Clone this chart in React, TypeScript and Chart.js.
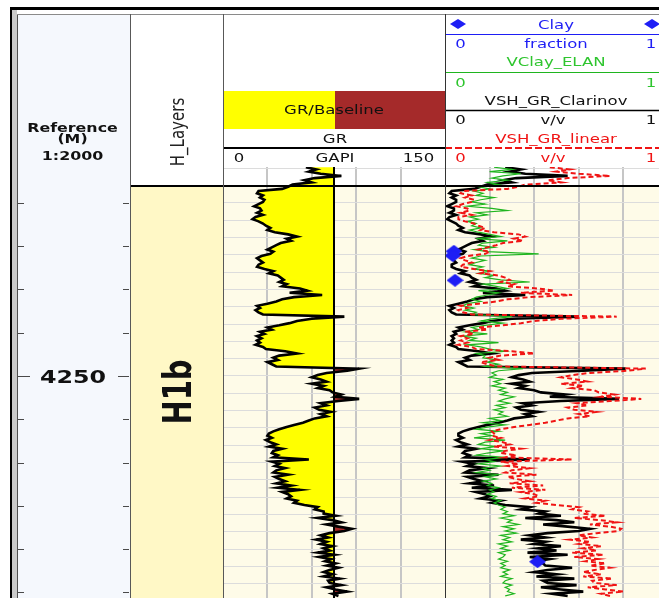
import React, { useEffect, useRef } from 'react';
import { Chart, registerables } from 'chart.js';

Chart.register(...registerables);

// ---------------- depth reference ----------------
const DEPTH_TOP = 4225.87;
const DEPTH_BOTTOM = 4275.64;
const DEPTH_TICK_STEP = 5;
const DEPTH_GRID_STEP = 2;
const DEPTH_LABELS = [4250];
const DEPTH_HEADER = ['Reference', '(M)', '1:2000'];

// ---------------- zonation ----------------
const LAYER_NAMES = ['H1b'];
const LAYER_TOPS = [4228.06];
const LAYER_BOTTOMS = [4290];

// ---------------- curve sampling (m) ----------------
const SAMPLE_START = 4225.9;
const SAMPLE_STEP = 0.25;

// Gamma ray, GAPI
const GR = [
  56, 63, 58, 66, 80, 62, 55, 60, 47, 44, 40, 24, 23, 27, 25, 28,
  27, 24, 21, 25, 26, 23, 27, 22, 20, 24, 27, 29, 32, 30, 35, 44,
  50, 43, 46, 39, 36, 33, 30, 34, 32, 26, 23, 25, 27, 24, 23, 28,
  34, 31, 37, 39, 41, 38, 43, 40, 52, 57, 45, 67, 48, 40, 36, 30,
  23, 25, 22, 24, 27, 82, 60, 50, 45, 38, 30, 33, 25, 28, 23, 26,
  23, 25, 22, 27, 29, 42, 50, 38, 34, 37, 30, 33, 36, 92, 84, 70,
  64, 60, 66, 70, 60, 68, 64, 72, 74, 80, 76, 92, 78, 66, 70, 62,
  65, 73, 66, 70, 62, 58, 54, 48, 43, 38, 34, 31, 30, 33, 29, 32,
  36, 31, 40, 34, 33, 37, 34, 58, 33, 38, 35, 42, 36, 34, 44, 35,
  38, 42, 36, 46, 37, 52, 40, 44, 46, 43, 50, 48, 55, 64, 62, 68,
  68, 76, 64, 74, 80, 70, 78, 87, 82, 72, 66, 71, 63, 70, 66, 74,
  68, 72, 64, 75, 65, 73, 69, 76, 70, 78, 72, 68, 74, 68, 79, 71,
  72, 80, 70, 76, 84, 74, 78,
];
const GR_BASELINE = 75;
const GR_MIN = 0;
const GR_MAX = 150;
const GR_GRID_STEP = 30;

// Clay volume from ELAN, v/v
const VCLAY_ELAN = [
  0.22, 0.30, 0.20, 0.34, 0.26, 0.21, 0.28, 0.19, 0.24, 0.15, 0.20, 0.13, 0.17, 0.14, 0.22, 0.16,
  0.12, 0.18, 0.10, 0.21, 0.28, 0.14, 0.19, 0.11, 0.15, 0.10, 0.14, 0.12, 0.16, 0.11, 0.15, 0.20,
  0.25, 0.14, 0.28, 0.17, 0.15, 0.22, 0.13, 0.19, 0.42, 0.16, 0.12, 0.18, 0.14, 0.11, 0.17, 0.13,
  0.20, 0.15, 0.22, 0.18, 0.25, 0.38, 0.17, 0.23, 0.28, 0.15, 0.24, 0.19, 0.14, 0.12, 0.16, 0.10,
  0.08, 0.13, 0.09, 0.14, 0.12, 0.30, 0.21, 0.16, 0.26, 0.18, 0.12, 0.15, 0.09, 0.19, 0.08, 0.14,
  0.11, 0.24, 0.10, 0.16, 0.20, 0.27, 0.14, 0.18, 0.17, 0.23, 0.19, 0.24, 0.18, 0.35, 0.24, 0.21,
  0.23, 0.20, 0.26, 0.22, 0.25, 0.21, 0.27, 0.24, 0.28, 0.25, 0.31, 0.27, 0.24, 0.29, 0.23, 0.27,
  0.22, 0.26, 0.24, 0.28, 0.20, 0.25, 0.17, 0.27, 0.19, 0.14, 0.24, 0.16, 0.21, 0.13, 0.27, 0.18,
  0.15, 0.23, 0.16, 0.26, 0.19, 0.14, 0.27, 0.18, 0.22, 0.15, 0.25, 0.17, 0.20, 0.14, 0.24, 0.18,
  0.23, 0.17, 0.21, 0.19, 0.24, 0.20, 0.22, 0.19, 0.23, 0.21, 0.25, 0.22, 0.24, 0.27, 0.25, 0.28,
  0.26, 0.31, 0.25, 0.30, 0.28, 0.33, 0.26, 0.31, 0.27, 0.32, 0.25, 0.29, 0.26, 0.30, 0.24, 0.28,
  0.25, 0.29, 0.24, 0.27, 0.26, 0.24, 0.28, 0.25, 0.27, 0.25, 0.29, 0.26, 0.28, 0.25, 0.30, 0.27,
  0.26, 0.30, 0.27, 0.29, 0.28, 0.31, 0.27,
];

// Shale volume from GR, Clavier relation, v/v
const VSH_GR_CLARINOV = [
  0.27, 0.34, 0.29, 0.36, 0.55, 0.32, 0.26, 0.30, 0.19, 0.16, 0.13, 0.03, 0.02, 0.05, 0.03, 0.05,
  0.05, 0.03, 0.01, 0.04, 0.04, 0.02, 0.05, 0.02, 0.01, 0.03, 0.05, 0.06, 0.08, 0.06, 0.09, 0.16,
  0.21, 0.15, 0.17, 0.12, 0.10, 0.08, 0.06, 0.09, 0.08, 0.04, 0.03, 0.04, 0.05, 0.03, 0.03, 0.05,
  0.09, 0.07, 0.11, 0.12, 0.14, 0.11, 0.16, 0.13, 0.23, 0.27, 0.17, 0.36, 0.19, 0.13, 0.10, 0.06,
  0.02, 0.04, 0.02, 0.03, 0.05, 0.60, 0.30, 0.21, 0.17, 0.11, 0.06, 0.08, 0.04, 0.05, 0.03, 0.04,
  0.03, 0.04, 0.02, 0.05, 0.06, 0.15, 0.21, 0.12, 0.09, 0.11, 0.06, 0.08, 0.10, 0.81, 0.62, 0.39,
  0.33, 0.30, 0.35, 0.38, 0.30, 0.36, 0.33, 0.40, 0.43, 0.54, 0.47, 0.78, 0.52, 0.35, 0.39, 0.32,
  0.34, 0.42, 0.36, 0.39, 0.31, 0.28, 0.24, 0.19, 0.15, 0.11, 0.08, 0.06, 0.06, 0.08, 0.05, 0.07,
  0.10, 0.06, 0.14, 0.09, 0.08, 0.11, 0.09, 0.38, 0.08, 0.13, 0.10, 0.19, 0.11, 0.09, 0.24, 0.10,
  0.13, 0.17, 0.11, 0.22, 0.12, 0.30, 0.14, 0.18, 0.20, 0.16, 0.25, 0.21, 0.27, 0.38, 0.34, 0.45,
  0.42, 0.52, 0.36, 0.50, 0.58, 0.44, 0.55, 0.65, 0.60, 0.46, 0.38, 0.45, 0.34, 0.45, 0.40, 0.52,
  0.42, 0.50, 0.37, 0.55, 0.38, 0.47, 0.41, 0.44, 0.45, 0.57, 0.46, 0.40, 0.50, 0.41, 0.58, 0.44,
  0.46, 0.59, 0.43, 0.52, 0.62, 0.48, 0.55,
];

// Shale volume from GR, linear index, v/v
const VSH_GR_LINEAR = [
  0.47, 0.56, 0.50, 0.60, 0.74, 0.55, 0.46, 0.52, 0.36, 0.33, 0.28, 0.08, 0.07, 0.12, 0.09, 0.13,
  0.12, 0.08, 0.05, 0.10, 0.11, 0.07, 0.12, 0.06, 0.06, 0.09, 0.13, 0.15, 0.18, 0.16, 0.22, 0.33,
  0.36, 0.31, 0.35, 0.26, 0.23, 0.19, 0.15, 0.20, 0.18, 0.10, 0.07, 0.09, 0.12, 0.08, 0.07, 0.13,
  0.20, 0.16, 0.24, 0.27, 0.29, 0.25, 0.31, 0.28, 0.42, 0.49, 0.34, 0.57, 0.38, 0.28, 0.23, 0.15,
  0.07, 0.10, 0.06, 0.08, 0.12, 0.77, 0.52, 0.40, 0.34, 0.26, 0.15, 0.19, 0.09, 0.13, 0.07, 0.10,
  0.07, 0.10, 0.06, 0.12, 0.14, 0.30, 0.40, 0.25, 0.20, 0.24, 0.16, 0.19, 0.23, 0.90, 0.82, 0.65,
  0.57, 0.52, 0.59, 0.64, 0.52, 0.62, 0.57, 0.67, 0.69, 0.76, 0.70, 0.88, 0.74, 0.59, 0.64, 0.55,
  0.58, 0.68, 0.60, 0.65, 0.55, 0.50, 0.45, 0.38, 0.31, 0.25, 0.21, 0.22, 0.21, 0.25, 0.20, 0.26,
  0.29, 0.22, 0.34, 0.27, 0.25, 0.32, 0.27, 0.57, 0.25, 0.33, 0.28, 0.38, 0.30, 0.27, 0.41, 0.28,
  0.32, 0.38, 0.29, 0.44, 0.30, 0.45, 0.34, 0.40, 0.42, 0.36, 0.45, 0.41, 0.50, 0.60, 0.57, 0.64,
  0.62, 0.72, 0.58, 0.70, 0.77, 0.65, 0.74, 0.79, 0.78, 0.68, 0.60, 0.66, 0.56, 0.65, 0.60, 0.70,
  0.62, 0.68, 0.57, 0.71, 0.58, 0.69, 0.63, 0.72, 0.65, 0.74, 0.67, 0.62, 0.70, 0.62, 0.75, 0.66,
  0.67, 0.77, 0.64, 0.72, 0.80, 0.70, 0.74,
];

// Core clay fraction
const CLAY_CORE_DEPTHS = [4235.6, 4236.1, 4238.95, 4271.45];
const CLAY_CORE_VALUES = [0.04, 0.035, 0.045, 0.415];
const FRACTION_GRID_STEP = 0.2;

// ---------------- layout / style ----------------
const PAGE_W = 659;
const PAGE_H = 598;
const PLOT_TOP = 167;
const COLS = {
  ref: { left: 0, width: 130 },
  layers: { left: 130, width: 93 },
  gr: { left: 223, width: 222 },
  clay: { left: 445, width: 223 },
};
const FONT = '"DejaVu Sans", Verdana, sans-serif';
const SX = 1.32; // lettering is drawn horizontally widened
const BLUE = '#1e1ef5';
const GREEN = '#1fb51f';
const GREEN_TEXT = '#2ec52e';
const RED = '#f01414';
const CREAM = '#fefbe8';
const ZONE_FILL = '#fff8c6';

const depthAt = (i: number) => SAMPLE_START + i * SAMPLE_STEP;
const toPoints = (values: number[]) => values.map((v, i) => ({ x: v, y: depthAt(i) }));

function textH(ctx: CanvasRenderingContext2D, text: string, cx: number, cy: number, size: number, color: string, bold = false) {
  ctx.save();
  ctx.font = `${bold ? 'bold ' : ''}${size}px ${FONT}`;
  ctx.fillStyle = color;
  ctx.textAlign = 'center';
  ctx.textBaseline = 'alphabetic';
  ctx.translate(cx, cy + 0.365 * size);
  ctx.scale(SX, 1);
  ctx.fillText(text, 0, 0);
  ctx.restore();
}

function textV(ctx: CanvasRenderingContext2D, text: string, cx: number, cy: number, size: number, color: string, bold = false) {
  ctx.save();
  ctx.font = `${bold ? 'bold ' : ''}${size}px ${FONT}`;
  ctx.fillStyle = color;
  ctx.textAlign = 'center';
  ctx.textBaseline = 'alphabetic';
  ctx.translate(cx + 0.37 * size * SX, cy);
  ctx.rotate(-Math.PI / 2);
  ctx.scale(1, SX);
  ctx.fillText(text, 0, 0);
  ctx.restore();
}

function hline(ctx: CanvasRenderingContext2D, x0: number, x1: number, y: number, color: string, width: number, dash: number[] = []) {
  ctx.save();
  ctx.strokeStyle = color;
  ctx.lineWidth = width;
  ctx.setLineDash(dash);
  ctx.beginPath();
  ctx.moveTo(x0, y);
  ctx.lineTo(x1, y);
  ctx.stroke();
  ctx.restore();
}

function diamondPath(ctx: CanvasRenderingContext2D, cx: number, cy: number, w: number, h: number) {
  ctx.beginPath();
  ctx.moveTo(cx, cy - h / 2);
  ctx.lineTo(cx + w / 2, cy);
  ctx.lineTo(cx, cy + h / 2);
  ctx.lineTo(cx - w / 2, cy);
  ctx.closePath();
}

function makeDiamond(w: number, h: number, color: string) {
  const c = document.createElement('canvas');
  c.width = w;
  c.height = h;
  const g = c.getContext('2d')!;
  g.fillStyle = color;
  diamondPath(g, w / 2, h / 2, w, h);
  g.fill();
  return c;
}

function zoneBackground(chart: any, color: string) {
  const { ctx, chartArea: a, scales: { y } } = chart;
  ctx.save();
  ctx.fillStyle = color;
  LAYER_TOPS.forEach((top, i) => {
    const y0 = Math.max(a.top, y.getPixelForValue(top));
    const y1 = Math.min(a.bottom, y.getPixelForValue(LAYER_BOTTOMS[i]));
    if (y1 > y0) ctx.fillRect(a.left, y0, a.right - a.left, y1 - y0);
  });
  ctx.restore();
}

function zoneTopLines(chart: any) {
  const { ctx, chartArea: a, scales: { y } } = chart;
  LAYER_TOPS.forEach((top) => {
    const py = Math.round(y.getPixelForValue(top));
    if (py >= a.top && py <= a.bottom) hline(ctx, a.left, a.right, py, '#000', 2);
  });
}

function depthScale(step: number, showGrid: boolean) {
  return {
    type: 'linear',
    reverse: true,
    min: DEPTH_TOP,
    max: DEPTH_BOTTOM,
    bounds: 'data',
    display: true,
    border: { display: false },
    ticks: { display: false },
    grid: { display: showGrid, drawTicks: false, color: '#dcdcdc', lineWidth: 1 },
    afterBuildTicks: (scale: any) => {
      const ticks = [];
      for (let v = Math.ceil(DEPTH_TOP / step) * step; v <= DEPTH_BOTTOM; v += step) ticks.push({ value: v });
      scale.ticks = ticks;
    },
  };
}

function valueScale(min: number, max: number, step: number) {
  return {
    type: 'linear',
    min,
    max,
    display: true,
    border: { display: false },
    ticks: { display: false, stepSize: step },
    grid: {
      drawTicks: false,
      lineWidth: 2,
      color: (c: any) => (c.tick && (c.tick.value <= min || c.tick.value >= max) ? 'rgba(0,0,0,0)' : '#c6c6c6'),
    },
  };
}

const common = {
  responsive: false,
  animation: false,
  devicePixelRatio: 1,
  events: [],
  layout: { autoPadding: false, padding: { top: PLOT_TOP, left: 0, right: 0, bottom: 0 } },
  plugins: { legend: { display: false }, tooltip: { enabled: false } },
};

const curve = (values: number[], color: string, width: number, dash: number[] = []) => ({
  data: toPoints(values),
  borderColor: color,
  borderWidth: width,
  borderDash: dash,
  borderJoinStyle: 'miter',
  tension: 0,
  pointRadius: 0,
  fill: false,
});

// ---------- depth column ----------
const refPlugin = {
  id: 'refColumn',
  beforeDraw(chart: any) {
    const { ctx } = chart;
    ctx.save();
    ctx.fillStyle = '#f5f8fd';
    ctx.fillRect(17, 14, COLS.ref.width - 17, PAGE_H - 14);
    ctx.restore();
  },
  afterDraw(chart: any) {
    const { ctx, scales: { y } } = chart;
    const cx = 72.5;
    textH(ctx, DEPTH_HEADER[0], cx, 127.5, 12, '#111', true);
    textH(ctx, DEPTH_HEADER[1], cx, 138.5, 12, '#111', true);
    textH(ctx, DEPTH_HEADER[2], cx, 155.5, 12, '#111', true);
    y.ticks.forEach((t: any) => {
      const py = Math.round(y.getPixelForValue(t.value)) + 0.5;
      const major = DEPTH_LABELS.includes(t.value);
      ctx.save();
      ctx.strokeStyle = '#4a4a4a';
      ctx.lineWidth = 1;
      ctx.beginPath();
      ctx.moveTo(18, py);
      ctx.lineTo(major ? 30 : 24, py);
      ctx.moveTo(major ? 118 : 123, py);
      ctx.lineTo(129, py);
      ctx.stroke();
      ctx.restore();
      if (major) textH(ctx, String(t.value), 73, py, 18, '#111', true);
    });
  },
};

function refConfig(): any {
  return {
    type: 'scatter',
    data: { datasets: [] },
    options: {
      ...common,
      scales: {
        x: { type: 'linear', display: false, min: 0, max: 1 },
        y: depthScale(DEPTH_TICK_STEP, false),
      },
    },
    plugins: [refPlugin],
  };
}

// ---------- zonation column ----------
const layerPlugin = {
  id: 'layerColumn',
  afterDatasetsDraw(chart: any) {
    const { ctx, chartArea: a, scales: { y } } = chart;
    zoneTopLines(chart);
    LAYER_NAMES.forEach((name, i) => {
      const y0 = Math.max(a.top, y.getPixelForValue(LAYER_TOPS[i]));
      const y1 = Math.min(a.bottom, y.getPixelForValue(LAYER_BOTTOMS[i]));
      textV(ctx, name, (a.left + a.right) / 2, (y0 + y1) / 2, 29, '#111', true);
    });
  },
  afterDraw(chart: any) {
    textV(chart.ctx, 'H_Layers', 46.5, 132, 15, '#222');
  },
};

function layerConfig(): any {
  return {
    type: 'bar',
    data: {
      labels: LAYER_NAMES,
      datasets: [
        {
          data: LAYER_NAMES.map((_, i) => [LAYER_TOPS[i], LAYER_BOTTOMS[i]]),
          backgroundColor: ZONE_FILL,
          borderWidth: 0,
          barPercentage: 1,
          categoryPercentage: 1,
        },
      ],
    },
    options: {
      ...common,
      scales: {
        x: { type: 'category', display: false },
        y: { ...depthScale(DEPTH_TICK_STEP, false), display: false },
      },
    },
    plugins: [layerPlugin],
  };
}

// ---------- GR track ----------
const grPlugin = {
  id: 'grTrack',
  beforeDraw(chart: any) {
    zoneBackground(chart, CREAM);
  },
  beforeDatasetsDraw(chart: any) {
    // shading between the GR curve and its baseline
    const { ctx, chartArea: a, scales: { x, y } } = chart;
    const base = x.getPixelForValue(GR_BASELINE);
    const path = new Path2D();
    path.moveTo(base, y.getPixelForValue(depthAt(0)));
    GR.forEach((v, i) => path.lineTo(x.getPixelForValue(v), y.getPixelForValue(depthAt(i))));
    path.lineTo(base, y.getPixelForValue(depthAt(GR.length - 1)));
    path.closePath();
    ctx.save();
    ctx.beginPath();
    ctx.rect(a.left, a.top, base - a.left, a.bottom - a.top);
    ctx.clip();
    ctx.fillStyle = '#ffff00';
    ctx.fill(path);
    ctx.restore();
    ctx.save();
    ctx.beginPath();
    ctx.rect(base, a.top, a.right - base, a.bottom - a.top);
    ctx.clip();
    ctx.fillStyle = '#a52a2a';
    ctx.fill(path);
    ctx.restore();
  },
  afterDatasetsDraw(chart: any) {
    zoneTopLines(chart);
  },
  afterDraw(chart: any) {
    const { ctx } = chart;
    const w = COLS.gr.width;
    ctx.save();
    ctx.fillStyle = '#ffff00';
    ctx.fillRect(1, 91, 111, 38);
    ctx.fillStyle = '#a52a2a';
    ctx.fillRect(112, 91, w - 112, 38);
    ctx.restore();
    textH(ctx, 'GR/Baseline', 111, 109.5, 12.5, '#111');
    textH(ctx, 'GR', 112, 138.5, 12.5, '#111');
    hline(ctx, 0, w, 148, '#000', 2);
    textH(ctx, String(GR_MIN), 16, 157.5, 12.5, '#111');
    textH(ctx, 'GAPI', 112, 157.5, 12.5, '#111');
    textH(ctx, String(GR_MAX), 195.5, 157.5, 12.5, '#111');
  },
};

function grConfig(): any {
  return {
    type: 'line',
    data: {
      datasets: [
        curve(GR, '#000', 2.6),
        {
          data: [
            { x: GR_BASELINE, y: DEPTH_TOP },
            { x: GR_BASELINE, y: DEPTH_BOTTOM },
          ],
          borderColor: '#000',
          borderWidth: 2,
          pointRadius: 0,
          fill: false,
        },
      ],
    },
    options: {
      ...common,
      indexAxis: 'y',
      scales: {
        x: valueScale(GR_MIN, GR_MAX, GR_GRID_STEP),
        y: depthScale(DEPTH_GRID_STEP, true),
      },
    },
    plugins: [grPlugin],
  };
}

// ---------- clay volume track ----------
const clayPlugin = {
  id: 'clayTrack',
  beforeDraw(chart: any) {
    zoneBackground(chart, CREAM);
  },
  afterDatasetsDraw(chart: any) {
    zoneTopLines(chart);
  },
  afterDraw(chart: any) {
    const { ctx } = chart;
    const w = COLS.clay.width;
    const c = 111;
    const L = 15.5;
    const R = 206;
    ctx.save();
    ctx.fillStyle = BLUE;
    diamondPath(ctx, 13, 24, 16, 10);
    ctx.fill();
    diamondPath(ctx, 207, 24, 16, 10);
    ctx.fill();
    ctx.restore();
    textH(ctx, 'Clay', c, 24, 12.5, BLUE);
    hline(ctx, 0, w, 34.5, BLUE, 1);
    textH(ctx, '0', L, 43.5, 12.5, BLUE);
    textH(ctx, 'fraction', c, 43.5, 12.5, BLUE);
    textH(ctx, '1', R, 43.5, 12.5, BLUE);
    textH(ctx, 'VClay_ELAN', c, 61.5, 12.5, GREEN_TEXT);
    hline(ctx, 0, w, 72.5, GREEN, 1);
    textH(ctx, '0', L, 82, 12.5, GREEN_TEXT);
    textH(ctx, '1', R, 82, 12.5, GREEN_TEXT);
    textH(ctx, 'VSH_GR_Clarinov', c, 100, 12.5, '#111');
    hline(ctx, 0, w, 110.5, '#000', 1.5);
    textH(ctx, '0', L, 119.5, 12.5, '#111');
    textH(ctx, 'v/v', 108, 119.5, 12.5, '#111');
    textH(ctx, '1', R, 119.5, 12.5, '#111');
    textH(ctx, 'VSH_GR_linear', c, 138, 12.5, RED);
    hline(ctx, 0, w, 148, RED, 2, [7, 3]);
    textH(ctx, '0', L, 157.5, 12.5, RED);
    textH(ctx, 'v/v', 108, 157.5, 12.5, RED);
    textH(ctx, '1', R, 157.5, 12.5, RED);
  },
};

function clayConfig(): any {
  const diamond = makeDiamond(17, 13, BLUE);
  return {
    type: 'line',
    data: {
      datasets: [
        {
          data: CLAY_CORE_VALUES.map((v, i) => ({ x: v, y: CLAY_CORE_DEPTHS[i] })),
          showLine: false,
          pointStyle: diamond,
          pointRadius: 8,
        },
        curve(VSH_GR_LINEAR, RED, 2, [5, 3]),
        curve(VCLAY_ELAN, GREEN, 1.2),
        curve(VSH_GR_CLARINOV, '#000', 2.6),
      ],
    },
    options: {
      ...common,
      indexAxis: 'y',
      scales: {
        x: valueScale(0, 1, FRACTION_GRID_STEP),
        y: depthScale(DEPTH_GRID_STEP, true),
      },
    },
    plugins: [clayPlugin],
  };
}

const FRAME_LINES = [
  { left: 10, top: 7, width: PAGE_W - 10, height: 3, background: '#000' },
  { left: 10, top: 7, width: 2, height: PAGE_H - 7, background: '#000' },
  { left: 12, top: 10, width: 5, height: PAGE_H - 10, background: '#cacaca' },
  { left: 17, top: 14, width: 1, height: PAGE_H - 14, background: '#505050' },
  { left: 17, top: 14, width: PAGE_W - 17, height: 1, background: '#8a8a8a' },
  { left: 130, top: 14, width: 1, height: PAGE_H - 14, background: '#585858' },
  { left: 223, top: 14, width: 1, height: PAGE_H - 14, background: '#585858' },
  { left: 445, top: 14, width: 1, height: PAGE_H - 14, background: '#333' },
];

export default function App() {
  const refCanvas = useRef<HTMLCanvasElement>(null);
  const layerCanvas = useRef<HTMLCanvasElement>(null);
  const grCanvas = useRef<HTMLCanvasElement>(null);
  const clayCanvas = useRef<HTMLCanvasElement>(null);

  useEffect(() => {
    const charts = [
      new Chart(refCanvas.current!, refConfig()),
      new Chart(layerCanvas.current!, layerConfig()),
      new Chart(grCanvas.current!, grConfig()),
      new Chart(clayCanvas.current!, clayConfig()),
    ];
    return () => charts.forEach((c) => c.destroy());
  }, []);

  const canvasStyle = (col: { left: number; width: number }) => ({
    position: 'absolute' as const,
    left: col.left,
    top: 0,
    width: col.width,
    height: PAGE_H,
  });

  return (
    <div
      style={{
        position: 'fixed',
        left: 0,
        top: 0,
        width: PAGE_W,
        height: PAGE_H,
        overflow: 'hidden',
        background: '#fff',
      }}
    >
      <canvas ref={refCanvas} width={COLS.ref.width} height={PAGE_H} style={canvasStyle(COLS.ref)} />
      <canvas ref={layerCanvas} width={COLS.layers.width} height={PAGE_H} style={canvasStyle(COLS.layers)} />
      <canvas ref={grCanvas} width={COLS.gr.width} height={PAGE_H} style={canvasStyle(COLS.gr)} />
      <canvas ref={clayCanvas} width={COLS.clay.width} height={PAGE_H} style={canvasStyle(COLS.clay)} />
      {FRAME_LINES.map((s, i) => (
        <div key={i} style={{ position: 'absolute', ...s }} />
      ))}
    </div>
  );
}
